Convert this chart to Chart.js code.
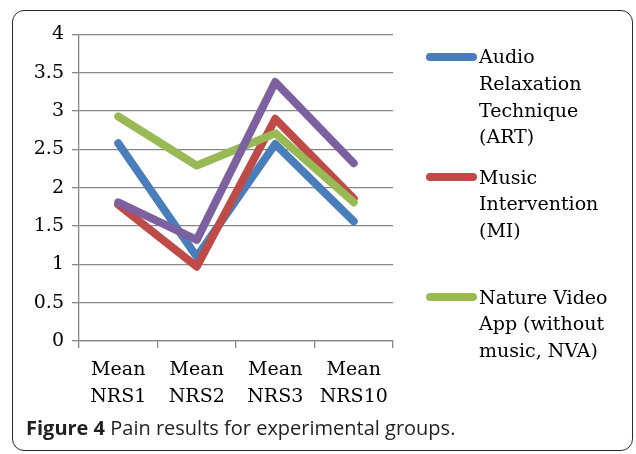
<!DOCTYPE html>
<html>
<head>
<meta charset="utf-8">
<script src="https://cdn.jsdelivr.net/npm/chart.js@4.4.1/dist/chart.umd.min.js"></script>
<style>
    body { margin: 0; background: #fff; }
    #frame {
        position: absolute; left: 12px; top: 10px; width: 621px; height: 441px;
        border: 1.6px solid #2b2b2b; border-radius: 12px; box-sizing: border-box;
    }
    #chartBox { position: absolute; left: 0; top: 0; width: 636px; height: 454px; }
    #legend { position: absolute; left: 0; top: 0; font-family: "DejaVu Serif"; font-size: 19px; line-height: 26.7px; color: #000; }
    .item { position: absolute; left: 426px; }
    .swatch { position: absolute; left: 0; top: 9.4px; width: 51px; height: 8px; border-radius: 4px; }
    .txt { position: absolute; left: 53px; white-space: nowrap; }
    #caption {
        position: absolute; left: 26px; top: 414px; white-space: nowrap;
        font-family: "Open Sans"; font-size: 20px; color: #231f20;
    }
</style>
</head>
<body>
<div id="frame"></div>
<div id="chartBox"><canvas id="painChart" width="636" height="454"></canvas></div>
<div id="legend"></div>
<div id="caption"><b>Figure 4</b> Pain results for experimental groups.</div>

<script>
// Données
const categories = [["Mean", "NRS1"], ["Mean", "NRS2"], ["Mean", "NRS3"], ["Mean", "NRS10"]];
const artValues = [2.58, 1.1, 2.57, 1.56];
const miValues = [1.78, 0.97, 2.9, 1.86];
const nvaValues = [2.93, 2.29, 2.71, 1.81];
const controlValues = [1.81, 1.32, 3.38, 2.32];
const yTicks = [0, 0.5, 1, 1.5, 2, 2.5, 3, 3.5, 4];

const legendLabels = [
    ["Audio", "Relaxation", "Technique", "(ART)"],
    ["Music", "Intervention", "(MI)"],
    ["Nature Video", "App (without", "music, NVA)"],
];
const legendTops = [43.3, 163.6, 283.6];

const GRID = "#878787";

function series(label, data, color, order) {
    return {
        label, data, order,
        borderColor: color,
        backgroundColor: color,
        borderWidth: 8,
        borderCapStyle: "round",
        borderJoinStyle: "round",
        pointRadius: 0,
        tension: 0,
        fill: false,
    };
}

const datasets = [
    series("Audio Relaxation Technique (ART)", artValues, "#4a7ebb", 4),
    series("Music Intervention (MI)", miValues, "#be4b48", 3),
    series("Nature Video App (without music, NVA)", nvaValues, "#98b954", 2),
    series("Control", controlValues, "#7d60a0", 1),
];

const chart = new Chart(document.getElementById("painChart"), {
    type: "line",
    data: { labels: categories, datasets },
    options: {
        responsive: false,
        animation: false,
        layout: { padding: { left: 0, top: 34.5, right: 243, bottom: 0 } },
        plugins: { legend: { display: false }, tooltip: { enabled: false } },
        scales: {
            x: {
                offset: true,
                grid: { drawOnChartArea: false, drawTicks: true, tickLength: 7, color: GRID, lineWidth: 1.3, offset: true },
                border: { color: GRID, width: 1.3 },
                ticks: {
                    color: "#000", padding: 9, maxRotation: 0, autoSkip: false,
                    font: { family: "DejaVu Serif", size: 19, lineHeight: 1.42 },
                },
                afterFit: (scale) => { scale.height = 113; },
            },
            y: {
                min: 0, max: 4,
                afterBuildTicks: (scale) => { scale.ticks = yTicks.map((v) => ({ value: v })); },
                grid: { color: GRID, lineWidth: 1.3, tickLength: 7 },
                border: { color: GRID, width: 1.3 },
                ticks: {
                    color: "#000", padding: 8,
                    font: { family: "DejaVu Serif", size: 19 },
                    callback: (value) => String(value),
                },
                afterFit: (scale) => { scale.width = 79; },
            },
        },
    },
});

// Légende HTML (les trois premières séries seulement, comme sur la figure)
const legend = document.getElementById("legend");
legendLabels.forEach((lines, i) => {
    const item = document.createElement("div");
    item.className = "item";
    item.style.top = legendTops[i] + "px";
    item.innerHTML = `<div class="swatch" style="background:${datasets[i].borderColor}"></div>` +
        `<div class="txt">${lines.join("<br>")}</div>`;
    legend.appendChild(item);
});
</script>
</body>
</html>
